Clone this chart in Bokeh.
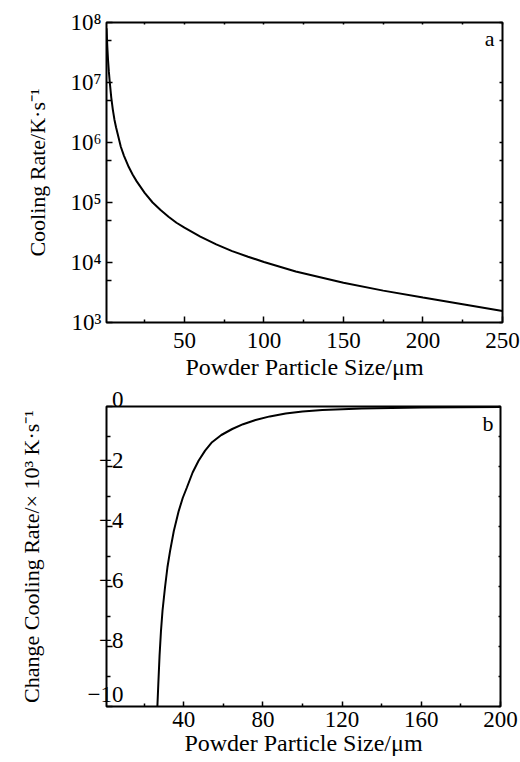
from bokeh.plotting import figure
from bokeh.models import Range1d, LogAxis, LinearAxis, FixedTicker, Label
from bokeh.layouts import column
from bokeh.embed import file_html
from bokeh.resources import INLINE

# ---------------- data: panel a ----------------
size_a = [1.0, 1.5, 2, 2.5, 3, 4, 5, 6, 7, 8, 10, 12, 15, 17.5, 20, 25, 30,
          35, 40, 45, 50, 60, 70, 80, 90, 100, 120, 150, 175, 200, 225, 250]
rate_a = [8.0e7, 4.0e7, 2.3e7, 1.5e7, 1.05e7, 5.6e6, 3.5e6, 2.4e6, 1.8e6,
          1.4e6, 8.5e5, 6.0e5, 3.9e5, 2.9e5, 2.25e5, 1.45e5, 1.0e5, 7.5e4,
          5.8e4, 4.6e4, 3.8e4, 2.7e4, 2.0e4, 1.55e4, 1.25e4, 1.02e4, 7.1e3,
          4.6e3, 3.4e3, 2.6e3, 2.02e3, 1.55e3]
xticks_a = [50, 100, 150, 200, 250]
xminor_a = [25, 75, 125, 175, 225]
yticks_a = [1e3, 1e4, 1e5, 1e6, 1e7, 1e8]
yminor_a = [5e3, 5e4, 5e5, 5e6, 5e7]
ylabels_a = ["10³", "10⁴", "10⁵", "10⁶", "10⁷", "10⁸"]

# ---------------- data: panel b ----------------
size_b = [26.7, 27.2, 27.8, 28.5, 29.3, 30.6, 31.8, 33.1, 35.0, 37.4, 39.5,
          41.6, 44.5, 47.5, 50.8, 54.3, 59.0, 64.5, 70.0, 76.3, 83.5, 91.5,
          100, 110, 130, 160, 200]
rate_b = [-10.0, -9.2, -8.3, -7.5, -6.8, -6.0, -5.35, -4.82, -4.15, -3.5, -3.05,
          -2.70, -2.2, -1.81, -1.47, -1.19, -0.95, -0.75, -0.59, -0.45, -0.33,
          -0.23, -0.17, -0.12, -0.07, -0.035, -0.015]
xticks_b = [40, 80, 120, 160, 200]
xminor_b = [20, 60, 100, 140, 180]
yticks_b = [-10, -8, -6, -4, -2, 0]
yminor_b = [-9, -7, -5, -3, -1]
ylabels_b = ["−10", "−8", "−6", "−4", "−2", "0"]
# trailing empty lines lift each label above its tick, as in the original
ylift_b = [2, 1, 1, 1, 1, 3]

FONT = "Liberation Serif"
TICK_FS = "23px"
XLAB_FS = "24px"
YLAB_FS = "22px"


def style_axis(ax, tick_in=6, minor_in=3):
    ax.major_tick_in = tick_in
    ax.major_tick_out = 0
    ax.minor_tick_in = minor_in
    ax.minor_tick_out = 0
    ax.axis_line_color = None
    ax.major_tick_line_color = "black"
    ax.major_tick_line_width = 1.5
    ax.minor_tick_line_color = "black"
    ax.minor_tick_line_width = 1.5
    ax.major_label_text_font = FONT
    ax.major_label_text_font_size = TICK_FS
    ax.major_label_text_color = "black"
    ax.axis_label_text_font = FONT
    ax.axis_label_text_font_size = YLAB_FS
    ax.axis_label_text_font_style = "normal"
    ax.axis_label_text_color = "black"


def base_style(p):
    p.xgrid.visible = False
    p.ygrid.visible = False
    p.outline_line_color = "black"
    p.outline_line_width = 2
    p.background_fill_color = "white"
    p.border_fill_color = "white"


# ---------------- panel a ----------------
p1 = figure(frame_width=396, frame_height=300, y_axis_type="log",
            x_range=Range1d(1, 250), y_range=Range1d(1e3, 1e8),
            output_backend="svg", toolbar_location=None,
            min_border_left=106, min_border_right=18,
            min_border_top=22, min_border_bottom=64)
base_style(p1)
p1.line(size_a, rate_a, line_color="black", line_width=2)

xa = p1.xaxis[0]
xa.ticker = FixedTicker(ticks=xticks_a, minor_ticks=xminor_a)
xa.axis_label = "Powder Particle Size/μm"
style_axis(xa)
xa.axis_label_text_font_size = XLAB_FS
xa.major_label_standoff = 10
xa.axis_label_standoff = 3

ya = p1.yaxis[0]
ya.ticker = FixedTicker(ticks=yticks_a, minor_ticks=yminor_a)
ya.major_label_overrides = {t: s for t, s in zip(yticks_a, ylabels_a)}
ya.axis_label = "Cooling Rate/K·s⁻¹"
style_axis(ya, 6, 5)
ya.major_label_standoff = 5
ya.axis_label_standoff = 17

ra = LogAxis(ticker=FixedTicker(ticks=yticks_a, minor_ticks=yminor_a))
style_axis(ra, 3, 3)
ra.major_label_text_color = None
p1.add_layout(ra, "right")

ta = LinearAxis(ticker=FixedTicker(ticks=xticks_a, minor_ticks=xminor_a))
style_axis(ta, 2, 2)
ta.major_label_text_color = None
p1.add_layout(ta, "above")

p1.add_layout(Label(x=p1.x_range.end, y=p1.y_range.end, text="a",
                    x_offset=-8, y_offset=-3,
                    text_align="right", text_baseline="top",
                    text_font=FONT, text_font_size=YLAB_FS, text_color="black"))

# ---------------- panel b ----------------
p2 = figure(frame_width=394, frame_height=300,
            x_range=Range1d(1, 200), y_range=Range1d(-10, 0),
            output_backend="svg", toolbar_location=None,
            min_border_left=101, min_border_right=25,
            min_border_top=20, min_border_bottom=56)
base_style(p2)
p2.line(size_b, rate_b, line_color="black", line_width=2)

xb = p2.xaxis[0]
xb.ticker = FixedTicker(ticks=xticks_b, minor_ticks=xminor_b)
xb.axis_label = "Powder Particle Size/μm"
style_axis(xb, 5, 3)
xb.axis_label_text_font_size = XLAB_FS
xb.major_label_standoff = 5
xb.axis_label_standoff = 0

yb = p2.yaxis[0]
yb.ticker = FixedTicker(ticks=yticks_b, minor_ticks=yminor_b)
yb.major_label_overrides = {t: s + "\n" * k
                            for t, s, k in zip(yticks_b, ylabels_b, ylift_b)}
yb.axis_label = "Change Cooling Rate/× 10³ K·s⁻¹"
style_axis(yb, 6, 4)
yb.major_label_text_line_height = 0.48
yb.major_label_standoff = -17
yb.axis_label_standoff = 41

rb = LinearAxis(ticker=FixedTicker(ticks=yticks_b, minor_ticks=yminor_b))
style_axis(rb, 2, 2)
rb.major_label_text_color = None
p2.add_layout(rb, "right")

p2.add_layout(Label(x=p2.x_range.end, y=p2.y_range.end, text="b",
                    x_offset=-7, y_offset=-4,
                    text_align="right", text_baseline="top",
                    text_font=FONT, text_font_size=YLAB_FS, text_color="black"))

layout = column(p1, p2)
open("out.html", "w").write(file_html(layout, INLINE))
